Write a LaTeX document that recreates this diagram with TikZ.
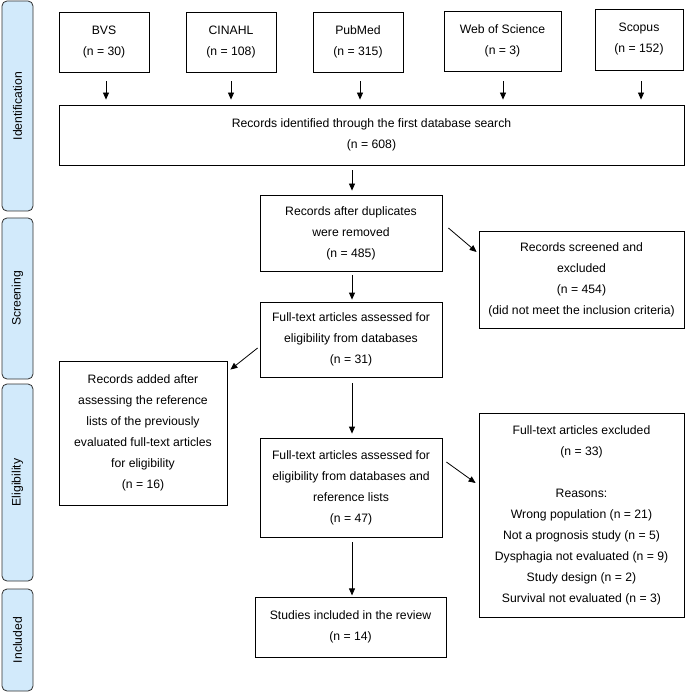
\documentclass[tikz,border=0pt]{standalone}
\usepackage{fontspec}
\setmainfont{Liberation Sans}
\usetikzlibrary{arrows.meta,calc}
\definecolor{sidefill}{HTML}{D2EAFB}
\definecolor{sidedraw}{HTML}{303030}
\begin{document}
\begin{tikzpicture}[x=1pt,y=-1pt,
  every node/.style={font=\fontsize{12.2}{21}\selectfont},
  box/.style={draw=black,line width=0.8pt,inner sep=0pt,align=center},
  side/.style={draw=sidedraw,fill=sidefill,line width=0.8pt,rounded corners=5pt,inner sep=0pt,minimum width=31pt},
  sidetext/.style={rotate=90,inner sep=0pt},
  arr/.style={-{Triangle[length=7pt,width=6pt]},line width=0.8pt}]
\useasboundingbox (0,0) rectangle (685,692);
% side bars
\node[side,minimum height=210pt] (sI) at (17.5,106) {};
\node[sidetext] (tI) at (sI.center) {Identification};
\node[side,minimum height=161pt] (sS) at (17.5,298.5) {};
\node[sidetext] (tS) at (sS.center) {Screening};
\node[side,minimum height=197pt] (sE) at (17.5,482.5) {};
\node[sidetext] (tE) at (sE.center) {Eligibility};
\node[side,minimum height=102pt] (sN) at (17.5,640) {};
\node[sidetext] (tN) at (sN.center) {Included};
% database boxes
\node[box,minimum width=90pt,minimum height=60pt] (bvs) at (104,42) {BVS\\(n = 30)};
\node[box,minimum width=90pt,minimum height=60pt] (cin) at (231,42) {CINAHL\\(n = 108)};
\node[box,minimum width=90pt,minimum height=60pt] (pub) at (358,42) {PubMed\\(n = 315)};
\node[box,minimum width=117pt,minimum height=60pt] (wos) at (502.5,41) {Web of Science\\(n = 3)};
\node[box,minimum width=88pt,minimum height=61pt] (sco) at (639,39.5) {Scopus\\(n = 152)};
% main flow
\node[box,minimum width=625pt,minimum height=60pt] (ident) at (371.5,135) {Records identified through the first database search\\(n = 608)};
\node[box,minimum width=182pt,minimum height=76pt] (dup) at (351,233) {Records after duplicates\\were removed\\(n = 485)};
\node[box,minimum width=205pt,minimum height=97pt] (scr) at (581.5,279.5) {Records screened and\\excluded\\(n = 454)\\(did not meet the inclusion criteria)};
\node[box,minimum width=182pt,minimum height=75pt] (ft31) at (351,339.5) {Full-text articles assessed for\\eligibility from databases\\(n = 31)};
\node[box,minimum width=168pt,minimum height=144pt] (add) at (143,433) {Records added after\\assessing the reference\\lists of the previously\\evaluated full-text articles\\for eligibility\\(n = 16)};
\node[box,minimum width=182pt,minimum height=99pt] (ft47) at (351,487.5) {Full-text articles assessed for\\eligibility from databases and\\reference lists\\(n = 47)};
\node[box,minimum width=205pt,minimum height=204pt] (exc) at (581.5,515) {Full-text articles excluded\\(n = 33)\\[21pt]Reasons:\\Wrong population (n = 21)\\Not a prognosis study (n = 5)\\Dysphagia not evaluated (n = 9)\\Study design (n = 2)\\Survival not evaluated (n = 3)};
\node[box,minimum width=191pt,minimum height=60pt] (inc) at (350.5,627) {Studies included in the review\\(n = 14)};
% arrows from databases
\draw[arr] ($(bvs.south)+(2,9)$) -- ($(bvs.south|-ident.north)+(2,-5)$);
\draw[arr] ($(cin.south)+(0,9)$) -- ($(cin.south|-ident.north)+(0,-5)$);
\draw[arr] ($(pub.south)+(2,9)$) -- ($(pub.south|-ident.north)+(2,-5)$);
\draw[arr] ($(wos.south)+(0.5,10)$) -- ($(wos.south|-ident.north)+(0.5,-5)$);
\draw[arr] ($(sco.south)+(2,11)$) -- ($(sco.south|-ident.north)+(2,-5)$);
% vertical flow
\draw[arr] ($(dup.north|-ident.south)+(1,5)$) -- ($(dup.north)+(1,-4)$);
\draw[arr] ($(dup.south)+(1,4)$) -- ($(ft31.north)+(1,-2)$);
\draw[arr] ($(ft31.south)+(1,6)$) -- ($(ft47.north)+(1,-4)$);
\draw[arr] ($(ft47.south)+(1,5)$) -- ($(inc.north|-ft47.south)+(1.5,58)$);
% diagonal arrows
\draw[arr] ($(dup.east)+(6,-5)$) -- ($(scr.west)+(-2,-27.5)$);
\draw[arr] ($(ft31.west)+(-2,8.5)$) -- ($(add.north east)+(3,9)$);
\draw[arr] ($(ft47.east)+(4,-25.5)$) -- ($(exc.west)+(-3,-32)$);
\end{tikzpicture}
\end{document}
